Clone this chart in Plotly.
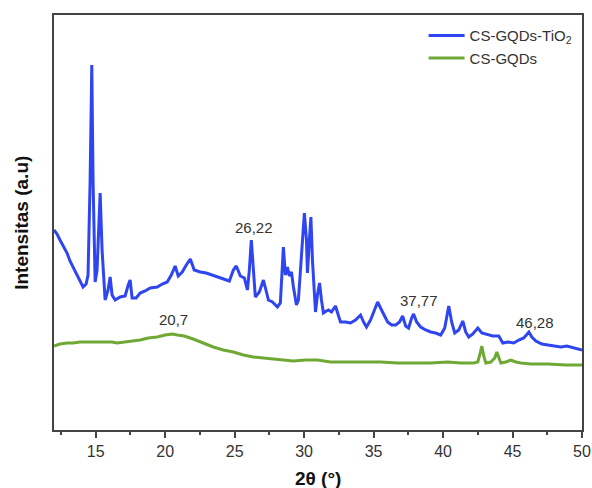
import plotly.graph_objects as go

# CS-GQDs-TiO2 (blue) – 2θ (deg) and intensity (a.u.)
tio2_theta = [12.00, 12.22, 12.43, 12.72, 12.94, 13.15, 13.37, 13.66, 13.87, 14.09, 14.31, 14.45,
              14.60, 14.72, 14.81, 14.96, 15.10, 15.32, 15.46, 15.68, 15.89, 16.04, 16.18, 16.40,
              16.76, 17.12, 17.34, 17.48, 17.62, 17.91, 18.20, 18.56, 18.92, 19.43, 19.79, 20.15,
              20.44, 20.72, 20.94, 21.23, 21.52, 21.81, 22.09, 22.53, 22.96, 23.39, 23.82, 24.26,
              24.62, 24.91, 25.12, 25.41, 25.70, 25.92, 26.06, 26.20, 26.35, 26.49, 26.78, 27.07,
              27.29, 27.43, 27.72, 28.08, 28.29, 28.51, 28.65, 28.80, 28.94, 29.09, 29.23, 29.45,
              29.59, 29.81, 30.02, 30.17, 30.24, 30.38, 30.49, 30.60, 30.82, 30.96, 31.11, 31.25,
              31.39, 31.61, 31.75, 31.97, 32.26, 32.48, 32.62, 32.98, 33.34, 33.70, 34.06, 34.28,
              34.49, 34.78, 35.07, 35.29, 35.50, 35.72, 36.01, 36.30, 36.59, 36.87, 37.09, 37.31,
              37.52, 37.74, 37.88, 38.10, 38.39, 38.75, 39.11, 39.47, 39.83, 40.12, 40.41, 40.62,
              40.84, 41.13, 41.42, 41.63, 41.85, 42.14, 42.50, 42.79, 43.22, 43.58, 44.01, 44.30,
              44.66, 45.09, 45.45, 45.81, 46.18, 46.39, 46.68, 47.11, 47.54, 47.98, 48.48, 48.91,
              49.42, 49.78, 50.00]
tio2_int = [200, 196, 190, 182, 177, 169, 163, 155, 150, 143, 146, 155,
            250, 365, 250, 148, 160, 237, 180, 130, 140, 153, 135, 130,
            133, 134, 145, 150, 132, 132, 137, 139, 142, 143, 146, 148,
            155, 164, 154, 158, 165, 171, 160, 158, 157, 155, 153, 151,
            149, 160, 164, 154, 152, 140, 160, 190, 162, 133, 138, 150,
            138, 130, 128, 123, 127, 183, 155, 163, 154, 158, 143, 125,
            130, 180, 217, 190, 157, 190, 213, 170, 118, 135, 147, 130,
            117, 119, 120, 118, 124, 114, 108, 108, 107, 110, 115, 108,
            103, 110, 120, 128, 122, 116, 108, 105, 105, 108, 114, 104,
            102, 112, 116, 108, 103, 100, 98, 97, 95, 102, 124, 108,
            97, 100, 109, 98, 93, 96, 102, 97, 95, 94, 94, 87,
            88, 87, 90, 92, 98, 93, 89, 86, 85, 84, 83, 84,
            82, 81, 80]

# CS-GQDs (green)
gqd_theta = [12.00, 12.43, 12.94, 13.37, 13.87, 14.45, 15.10, 15.68, 16.18, 16.54, 17.05, 17.62,
             18.20, 18.78, 19.43, 20.00, 20.51, 20.87, 21.37, 22.02, 22.74, 23.46, 24.18, 24.91,
             25.63, 26.35, 27.07, 27.79, 28.51, 29.23, 30.10, 30.96, 31.90, 33.12, 34.42, 35.50,
             36.73, 37.88, 39.11, 40.33, 41.27, 42.21, 42.50, 42.64, 42.79, 42.93, 43.08, 43.44,
             43.72, 43.87, 44.01, 44.16, 44.52, 44.88, 45.24, 45.60, 46.32, 47.54, 48.84, 50.00]
gqd_int = [84, 86, 87, 87, 88, 88, 88, 88, 88, 87, 88, 89,
           90, 92, 93, 95, 96, 95, 94, 91, 87, 83, 80, 78,
           75, 73, 72, 71, 70, 69, 70, 70, 68, 68, 68, 68,
           67, 67, 67, 68, 67, 67, 68, 75, 84, 74, 67, 68,
           72, 78, 72, 67, 68, 70, 68, 67, 66, 66, 65, 65]

# Peak labels
label_text = ["26,22", "37,77", "46,28", "20,7"]
label_theta = [26.42, 38.24, 46.60, 20.58]
label_int = [203, 130, 108, 111]

x_ticks = [15, 20, 25, 30, 35, 40, 45, 50]

BLUE = "#2F45F2"
GREEN = "#6FA834"
AXIS = "#444444"
FONT = "Liberation Sans, Arial, sans-serif"

fig = go.Figure()
fig.add_trace(go.Scatter(x=tio2_theta, y=tio2_int, mode="lines",
                         line=dict(color=BLUE, width=3),
                         name="CS-GQDs-TiO<sub>2</sub>"))
fig.add_trace(go.Scatter(x=gqd_theta, y=gqd_int, mode="lines",
                         line=dict(color=GREEN, width=3),
                         name="CS-GQDs"))

for t, x, y in zip(label_text, label_theta, label_int):
    fig.add_annotation(x=x, y=y, text=t, showarrow=False,
                       font=dict(size=15, color="#333333", family=FONT))

# axis titles as annotations (fixed positions)
fig.add_annotation(xref="paper", yref="paper", x=-0.062, y=0.5, text="<b>Intensitas (a.u)</b>",
                   textangle=-90, showarrow=False, xanchor="center", yanchor="middle",
                   font=dict(size=19, color="#111111", family=FONT))
fig.add_annotation(xref="paper", yref="paper", x=0.5, y=-0.1157, text="<b>2θ (°)</b>",
                   showarrow=False, xanchor="center", yanchor="middle",
                   font=dict(size=19, color="#111111", family=FONT))

fig.update_layout(
    width=592, height=488,
    margin=dict(l=54, r=10, t=15, b=58, autoexpand=False),
    paper_bgcolor="white", plot_bgcolor="white",
    font=dict(family=FONT, color="#333333"),
    showlegend=True,
    legend=dict(x=0.70, y=0.99, xanchor="left", yanchor="top",
                bgcolor="rgba(0,0,0,0)", font=dict(size=15, color="#333333"),
                tracegroupgap=0, itemwidth=36),
)
fig.update_xaxes(
    range=[12, 50], tickvals=x_ticks, ticktext=[str(v) for v in x_ticks],
    ticks="outside", ticklen=6, tickwidth=1.5, tickcolor=AXIS,
    minor=dict(ticks="outside", ticklen=3, tickwidth=1.5, tickcolor=AXIS, dtick=2.5, tick0=0),
    showline=True, linecolor=AXIS, linewidth=2, mirror=True,
    showgrid=False, zeroline=False, automargin=False,
    tickfont=dict(size=16, color="#333333"),
)
fig.update_yaxes(
    range=[0, 415], showticklabels=False, ticks="",
    showline=True, linecolor=AXIS, linewidth=2, mirror=True,
    showgrid=False, zeroline=False, automargin=False,
)

# remove the page's default body margin so the figure fills the window exactly
fig.write_html("out.html", config={"displayModeBar": False},
               post_script="document.body.style.margin='0';document.body.style.overflow='hidden';")
